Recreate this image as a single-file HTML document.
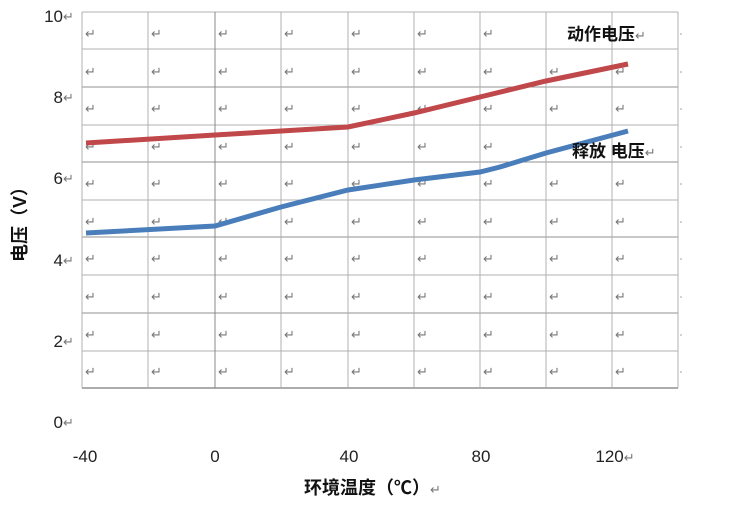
<!DOCTYPE html>
<html><head><meta charset="utf-8"><style>
body{margin:0;background:#fff;width:750px;height:512px;overflow:hidden}
</style></head><body>
<svg width="750" height="512" xmlns="http://www.w3.org/2000/svg" font-family="Liberation Sans, Noto Sans CJK SC, sans-serif">
<g stroke="#b0b0b0" stroke-width="1">
<line x1="82" y1="12" x2="678" y2="12"/><line x1="82" y1="49" x2="678" y2="49"/>
<line x1="82" y1="87" x2="678" y2="87" stroke="#909090"/><line x1="82" y1="125" x2="678" y2="125"/>
<line x1="82" y1="162" x2="678" y2="162" stroke="#909090"/><line x1="82" y1="200" x2="678" y2="200"/>
<line x1="82" y1="237" x2="678" y2="237" stroke="#909090"/><line x1="82" y1="275" x2="678" y2="275"/>
<line x1="82" y1="313" x2="678" y2="313" stroke="#909090"/><line x1="82" y1="351" x2="678" y2="351"/>
<line x1="82" y1="388" x2="678" y2="388" stroke="#909090" stroke-width="1.5"/>
<line x1="82" y1="12" x2="82" y2="388"/><line x1="148" y1="12" x2="148" y2="388"/>
<line x1="215" y1="12" x2="215" y2="388" stroke="#888"/><line x1="281" y1="12" x2="281" y2="388"/>
<line x1="348" y1="12" x2="348" y2="388"/><line x1="414" y1="12" x2="414" y2="388"/>
<line x1="480" y1="12" x2="480" y2="388"/><line x1="546" y1="12" x2="546" y2="388"/>
<line x1="612" y1="12" x2="612" y2="388"/><line x1="678" y1="12" x2="678" y2="388"/>
</g>
<g fill="#999">
<circle cx="681" cy="34" r="0.8"/><circle cx="681" cy="72" r="0.8"/><circle cx="681" cy="109" r="0.8"/><circle cx="681" cy="147" r="0.8"/><circle cx="681" cy="184" r="0.8"/><circle cx="681" cy="222" r="0.8"/><circle cx="681" cy="259" r="0.8"/><circle cx="681" cy="297" r="0.8"/><circle cx="681" cy="335" r="0.8"/><circle cx="681" cy="372" r="0.8"/>
</g>
<g fill="#777" font-size="13">
<text x="85" y="38">↵</text><text x="151" y="38">↵</text><text x="218" y="38">↵</text><text x="284" y="38">↵</text><text x="351" y="38">↵</text><text x="417" y="38">↵</text><text x="483" y="38">↵</text>
<text x="85" y="76">↵</text><text x="151" y="76">↵</text><text x="218" y="76">↵</text><text x="284" y="76">↵</text><text x="351" y="76">↵</text><text x="417" y="76">↵</text><text x="483" y="76">↵</text><text x="549" y="76">↵</text><text x="615" y="76">↵</text>
<text x="85" y="113">↵</text><text x="151" y="113">↵</text><text x="218" y="113">↵</text><text x="284" y="113">↵</text><text x="351" y="113">↵</text><text x="417" y="113">↵</text><text x="483" y="113">↵</text><text x="549" y="113">↵</text><text x="615" y="113">↵</text>
<text x="85" y="151">↵</text><text x="151" y="151">↵</text><text x="218" y="151">↵</text><text x="284" y="151">↵</text><text x="351" y="151">↵</text><text x="417" y="151">↵</text><text x="483" y="151">↵</text>
<text x="85" y="188">↵</text><text x="151" y="188">↵</text><text x="218" y="188">↵</text><text x="284" y="188">↵</text><text x="351" y="188">↵</text><text x="417" y="188">↵</text><text x="483" y="188">↵</text><text x="549" y="188">↵</text><text x="615" y="188">↵</text>
<text x="85" y="226">↵</text><text x="151" y="226">↵</text><text x="218" y="226">↵</text><text x="284" y="226">↵</text><text x="351" y="226">↵</text><text x="417" y="226">↵</text><text x="483" y="226">↵</text><text x="549" y="226">↵</text><text x="615" y="226">↵</text>
<text x="85" y="263">↵</text><text x="151" y="263">↵</text><text x="218" y="263">↵</text><text x="284" y="263">↵</text><text x="351" y="263">↵</text><text x="417" y="263">↵</text><text x="483" y="263">↵</text><text x="549" y="263">↵</text><text x="615" y="263">↵</text>
<text x="85" y="301">↵</text><text x="151" y="301">↵</text><text x="218" y="301">↵</text><text x="284" y="301">↵</text><text x="351" y="301">↵</text><text x="417" y="301">↵</text><text x="483" y="301">↵</text><text x="549" y="301">↵</text><text x="615" y="301">↵</text>
<text x="85" y="339">↵</text><text x="151" y="339">↵</text><text x="218" y="339">↵</text><text x="284" y="339">↵</text><text x="351" y="339">↵</text><text x="417" y="339">↵</text><text x="483" y="339">↵</text><text x="549" y="339">↵</text><text x="615" y="339">↵</text>
<text x="85" y="376">↵</text><text x="151" y="376">↵</text><text x="218" y="376">↵</text><text x="284" y="376">↵</text><text x="351" y="376">↵</text><text x="417" y="376">↵</text><text x="483" y="376">↵</text><text x="549" y="376">↵</text><text x="615" y="376">↵</text>
</g>
<polyline points="86,143 215,135 348,127 414,113 480,97 546,81 628,64" fill="none" stroke="#c0474a" stroke-width="5"/>
<polyline points="86,233 215,226 281,207 348,190 414,180 480,172 500,167 546,153 628,131" fill="none" stroke="#4a7ebb" stroke-width="5"/>
<g font-weight="bold" font-size="17" fill="#111">
<text x="567" y="40">动作电压<tspan font-size="13" fill="#777" font-weight="normal">↵</tspan></text>
<text x="572" y="157">释放 电压<tspan font-size="13" fill="#777" font-weight="normal">↵</tspan></text>
</g>
<g font-size="17" fill="#222">
<text x="63" y="22" text-anchor="end">10</text><text x="63" y="103" text-anchor="end">8</text>
<text x="63" y="184" text-anchor="end">6</text><text x="63" y="266" text-anchor="end">4</text>
<text x="63" y="347" text-anchor="end">2</text><text x="63" y="428" text-anchor="end">0</text>
<text x="85" y="462" text-anchor="middle">-40</text><text x="215" y="462" text-anchor="middle">0</text>
<text x="349" y="462" text-anchor="middle">40</text><text x="481" y="462" text-anchor="middle">80</text>
<text x="615" y="462" text-anchor="middle">120<tspan font-size="13" fill="#777">↵</tspan></text>
</g>
<g font-size="13" fill="#777">
<text x="63" y="21">↵</text><text x="63" y="102">↵</text><text x="63" y="183">↵</text><text x="63" y="265">↵</text><text x="63" y="346">↵</text><text x="63" y="427">↵</text>
</g>
<text x="304" y="494" font-size="18" font-weight="bold" fill="#111">环境温度（℃）<tspan font-size="13" fill="#777" font-weight="normal">↵</tspan></text>
<text transform="translate(26,262) rotate(-90)" font-size="18" font-weight="bold" fill="#111">电压（V）</text>
</svg>
</body></html>
